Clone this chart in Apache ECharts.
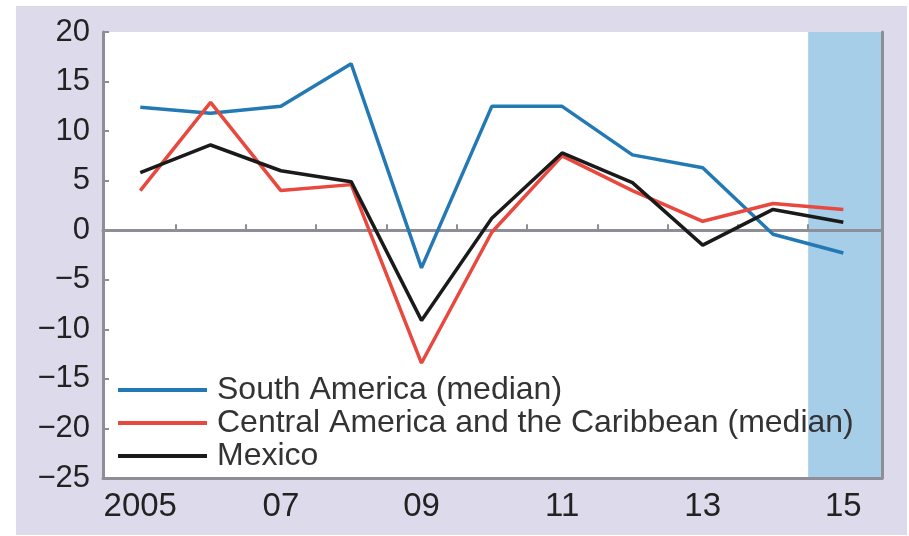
<!DOCTYPE html>
<html>
<head>
<meta charset="utf-8">
<script src="https://cdn.jsdelivr.net/npm/echarts@6/dist/echarts.min.js"></script>
<style>
    html, body { margin: 0; padding: 0; background: #fff; }
    #panel { position: absolute; left: 16px; top: 6px; width: 891px; height: 529px; background: #dddbeb; }
    #chart { position: absolute; left: 0; top: 0; width: 909px; height: 536px; }
</style>
</head>
<body>
<div id="panel"></div>
<div id="chart"></div>
<script>
// years on the x axis
const years = [2005, 2006, 2007, 2008, 2009, 2010, 2011, 2012, 2013, 2014, 2015];
const yearLabels = [2005, 2007, 2009, 2011, 2013, 2015];
const yearTicks = [2005.5, 2006.5, 2007.5, 2008.5, 2009.5, 2010.5, 2011.5, 2012.5, 2013.5, 2014.5];
const projectionStart = 2014.5;

// percent
const southAmerica = [12.4, 11.8, 12.5, 16.8, -3.8, 12.5, 12.5, 7.6, 6.3, -0.4, -2.3];
const centralAmerica = [4.0, 12.9, 4.0, 4.6, -13.4, -0.2, 7.5, 4.0, 0.9, 2.7, 2.1];
const mexico = [5.8, 8.6, 6.0, 4.9, -9.1, 1.2, 7.8, 4.8, -1.5, 2.1, 0.8];

const seriesNames = [
    'South America (median)',
    'Central America and the Caribbean (median)',
    'Mexico'
];
const seriesColors = ['#2379b4', '#e8483e', '#1a1a1a'];

const xMin = 2004.47, xMax = 2015.55;
const axisGray = '#8e8e96';
const font = 'Liberation Sans, Arial, sans-serif';

function pairs(vals) {
    return years.map((y, i) => [y, vals[i]]);
}

let chart = echarts.init(document.getElementById('chart'));

let lines = [southAmerica, centralAmerica, mexico].map((vals, i) => ({
    name: seriesNames[i],
    type: 'line',
    data: pairs(vals),
    symbol: 'none',
    z: 3,
    lineStyle: { color: seriesColors[i], width: 3.5 },
    itemStyle: { color: seriesColors[i] }
}));

let option = {
    backgroundColor: 'transparent',
    animation: false,
    grid: {
        left: 103, top: 32, right: 27, bottom: 58,
        show: true, backgroundColor: '#fff', borderWidth: 0
    },
    legend: {
        orient: 'vertical',
        left: 113, top: 369,
        icon: 'rect',
        itemWidth: 89, itemHeight: 4, itemGap: 1,
        data: seriesNames,
        textStyle: { fontFamily: font, fontSize: 32, color: '#333', padding: [0, 0, 0, 5] }
    },
    xAxis: [
        {
            type: 'value', min: xMin, max: xMax,
            position: 'bottom',
            axisLine: { onZero: false, lineStyle: { color: axisGray, width: 3 } },
            axisTick: { show: false },
            splitLine: { show: false },
            z: 2,
            axisLabel: {
                customValues: yearLabels,
                margin: 12,
                fontFamily: font, fontSize: 33, color: '#222',
                formatter: v => v === years[0] ? String(v) : String(v).slice(2)
            }
        },
        {
            type: 'value', min: xMin, max: xMax,
            position: 'bottom',
            axisLine: { onZero: true, lineStyle: { color: axisGray, width: 2 } },
            axisTick: { show: true, inside: true, length: 6, customValues: yearTicks, lineStyle: { color: axisGray, width: 2 } },
            axisLabel: { show: false },
            splitLine: { show: false },
            z: 2
        },
        {
            type: 'value', min: xMin, max: xMax,
            position: 'top',
            axisLine: { lineStyle: { color: axisGray, width: 3 } },
            axisTick: { show: false },
            axisLabel: { show: false },
            splitLine: { show: false },
            z: 2
        }
    ],
    yAxis: [
        {
            type: 'value', min: -25, max: 20, interval: 5,
            axisLine: { show: true, onZero: false, lineStyle: { color: axisGray, width: 3 } },
            axisTick: { show: true, inside: true, length: 6, lineStyle: { color: axisGray, width: 2 } },
            splitLine: { show: false },
            z: 2,
            axisLabel: {
                margin: 13,
                fontFamily: font, fontSize: 31, color: '#222',
                formatter: v => String(v).replace('-', '\u2212')
            }
        },
        {
            type: 'value', min: -25, max: 20, interval: 5,
            position: 'right',
            axisLine: { show: true, onZero: false, lineStyle: { color: axisGray, width: 3 } },
            axisTick: { show: false },
            axisLabel: { show: false },
            splitLine: { show: false },
            z: 2
        }
    ],
    series: [
        {
            type: 'line',
            data: [],
            z: 1,
            silent: true,
            markArea: {
                silent: true,
                itemStyle: { color: '#a7cee9', opacity: 1 },
                data: [[{ xAxis: projectionStart }, { xAxis: xMax }]]
            }
        }
    ].concat(lines)
};

chart.setOption(option);
</script>
</body>
</html>
